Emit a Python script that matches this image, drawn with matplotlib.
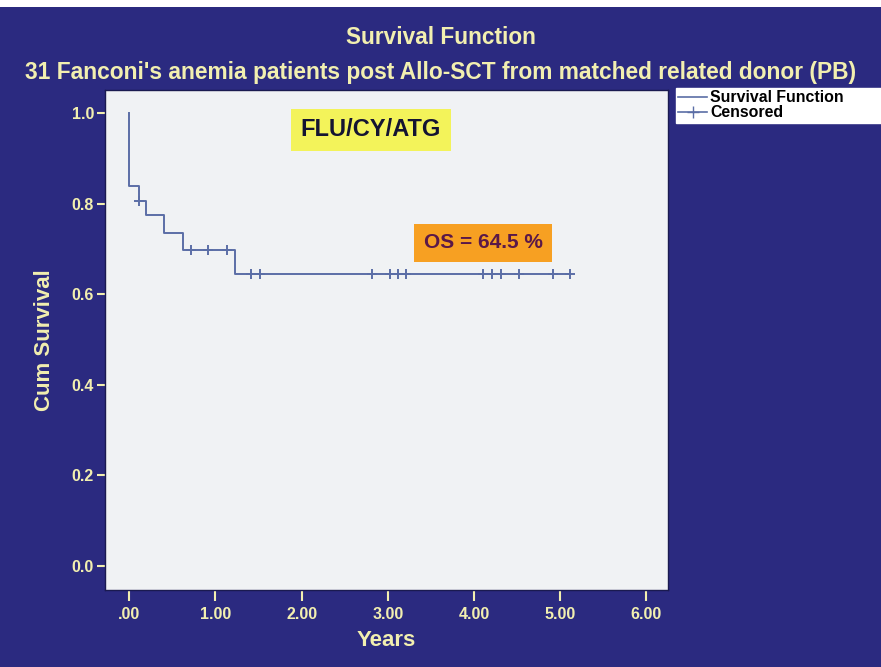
import matplotlib.pyplot as plt
from matplotlib.lines import Line2D
from matplotlib.patches import Rectangle

# step curve (years, cumulative survival)
step_times = [0.0, 0.0, 0.11, 0.20, 0.41, 0.62, 1.23, 5.11]
step_surv = [1.0, 0.839, 0.806, 0.774, 0.735, 0.697, 0.645, 0.645]

# censored patients
cens_times = [0.11, 0.72, 0.92, 1.13, 1.41, 1.52, 2.82, 3.02, 3.12, 3.21,
              4.11, 4.21, 4.31, 4.52, 4.92, 5.11]
cens_surv = [0.806, 0.697, 0.697, 0.697, 0.645, 0.645, 0.645, 0.645, 0.645, 0.645,
             0.645, 0.645, 0.645, 0.645, 0.645, 0.645]

x_ticks = [0, 1, 2, 3, 4, 5, 6]
x_labels = ['.00', '1.00', '2.00', '3.00', '4.00', '5.00', '6.00']
y_ticks = [0.0, 0.2, 0.4, 0.6, 0.8, 1.0]
y_labels = ['0.0', '0.2', '0.4', '0.6', '0.8', '1.0']

bg = '#2b2a80'
pale = '#f2efb0'
line_c = '#5b6ea6'
font = ['Liberation Sans', 'DejaVu Sans']

fig = plt.figure(figsize=(8.81, 6.67), dpi=100)
fig.patch.set_facecolor(bg)
# thin white strip on top of the scan
fig.patches.append(Rectangle((0, 1 - 7 / 667), 1, 7 / 667, transform=fig.transFigure,
                             facecolor='white', edgecolor='none'))

ax = fig.add_axes([105 / 881, 1 - 590 / 667, 563 / 881, 500 / 667])
ax.set_facecolor('#f0f2f4')
for s in ax.spines.values():
    s.set_color('#1a1a50')
    s.set_linewidth(1)

ax.step(step_times, step_surv, where='post', color=line_c, lw=1.4)
ax.plot(cens_times, cens_surv, ls='none', marker='+', ms=7, mew=1.4, color=line_c)

ax.set_xlim(-0.28, 6.25)
ax.set_ylim(-0.053, 1.051)
ax.set_xticks(x_ticks, x_labels)
ax.set_yticks(y_ticks, y_labels)
ax.tick_params(axis='x', colors=pale, length=8, width=1.5, pad=4, labelsize=11.5)
ax.tick_params(axis='y', colors=pale, length=6, width=1.5, pad=2, labelsize=11.5)
for lab in ax.get_xticklabels() + ax.get_yticklabels():
    lab.set_family(font)
    lab.set_fontweight('bold')

ax.set_xlabel('Years', color=pale, fontsize=16, fontweight='bold', family=font, labelpad=6)
ax.set_ylabel('Cum Survival', color=pale, fontsize=16, fontweight='bold', family=font, labelpad=12)

fig.text(0.5, 1 - 37 / 667, 'Survival Function', ha='center', va='center',
         color=pale, fontsize=16.3, fontweight='bold', family=font)
fig.text(0.5, 1 - 73 / 667,
         "31 Fanconi's anemia patients post Allo-SCT from matched related donor (PB)",
         ha='center', va='center', color=pale, fontsize=16.4, fontweight='bold', family=font)

ax.text(371 / 881, 1 - 130 / 667, 'FLU/CY/ATG', transform=fig.transFigure,
        ha='center', va='center', fontsize=17, fontweight='bold', color='#141432', family=font,
        bbox=dict(boxstyle='square,pad=0.4', facecolor='#f3f35a', edgecolor='none'))
ax.text(483 / 881, 1 - 243 / 667, 'OS = 64.5 %', transform=fig.transFigure,
        ha='center', va='center', fontsize=15, fontweight='bold', color='#5a1848', family=font,
        bbox=dict(boxstyle='square,pad=0.45', facecolor='#f7a022', edgecolor='none'))

handles = [Line2D([], [], color=line_c, lw=1.2),
           Line2D([], [], color=line_c, lw=1.2, marker='+', ms=8)]
leg = fig.legend(handles, ['Survival Function', 'Censored'],
                 loc='upper left', bbox_to_anchor=(676 / 881, 1 - 124 / 667, 205 / 881, 36 / 667),
                 mode='expand', frameon=True, fancybox=False, borderpad=0.15, labelspacing=0.0,
                 handlelength=1.8, handletextpad=0.2, borderaxespad=0,
                 prop=dict(family=font, weight='bold', size=11.4))
leg.get_frame().set_facecolor('white')
leg.get_frame().set_edgecolor('white')
leg.get_frame().set_alpha(1)

fig.savefig('out.png', dpi=100, facecolor=bg)
